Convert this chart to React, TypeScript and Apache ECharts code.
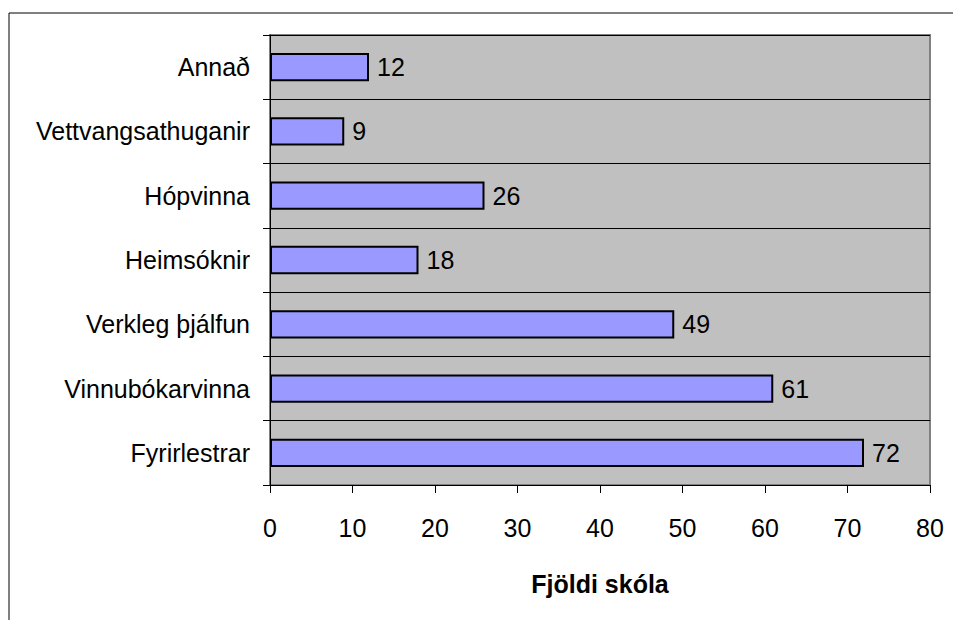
import React, { useEffect, useRef } from "react";
import * as echarts from "echarts";

const categories = ["Fyrirlestrar", "Vinnubókarvinna", "Verkleg þjálfun", "Heimsóknir", "Hópvinna", "Vettvangsathuganir", "Annað"];
const values = [72, 61, 49, 18, 26, 9, 12];
const axisTitle = "Fjöldi skóla";

export default function App() {
  const ref = useRef<HTMLDivElement>(null);
  useEffect(() => {
    document.body.style.margin = "0";
    const chart = echarts.init(ref.current!, null, { renderer: "svg" });
    const font = "Liberation Sans, Arial, sans-serif";
    chart.setOption({
      animation: false,
      backgroundColor: "#ffffff",
      grid: {
        left: 270, right: 24, top: 35, bottom: 135,
        show: true, backgroundColor: "#c0c0c0", borderColor: "#808080", borderWidth: 2,
      },
      xAxis: {
        type: "value", min: 0, max: 80, interval: 10,
        name: axisTitle, nameLocation: "middle", nameGap: 86,
        nameTextStyle: { fontFamily: font, fontSize: 25, fontWeight: "bold", color: "#000" },
        axisLine: { show: true, lineStyle: { color: "#000", width: 1 } },
        axisTick: { show: true, length: 8, lineStyle: { color: "#000" } },
        axisLabel: { fontFamily: font, fontSize: 25, color: "#000", margin: 30 },
        splitLine: { show: false },
      },
      yAxis: {
        type: "category", data: categories,
        axisLine: { show: true, lineStyle: { color: "#000", width: 1 } },
        axisTick: { show: true, length: 7, lineStyle: { color: "#000" } },
        axisLabel: { fontFamily: font, fontSize: 25, color: "#000", margin: 20 },
        splitLine: { show: true, lineStyle: { color: "#000", width: 1 } },
      },
      series: [{
        type: "bar", data: values, barCategoryGap: "56%",
        itemStyle: { color: "#9999ff", borderColor: "#000", borderWidth: 2 },
        label: { show: true, position: "right", distance: 8, fontFamily: font, fontSize: 25, color: "#000" },
      }],
      graphic: [
        { type: "line", shape: { x1: 9, y1: 13, x2: 953, y2: 13 }, style: { stroke: "#000", lineWidth: 1 } },
        { type: "line", shape: { x1: 9, y1: 13, x2: 9, y2: 620 }, style: { stroke: "#000", lineWidth: 1 } },
      ],
    });
    return () => chart.dispose();
  }, []);
  return <div ref={ref} style={{ width: 954, height: 620 }} />;
}
